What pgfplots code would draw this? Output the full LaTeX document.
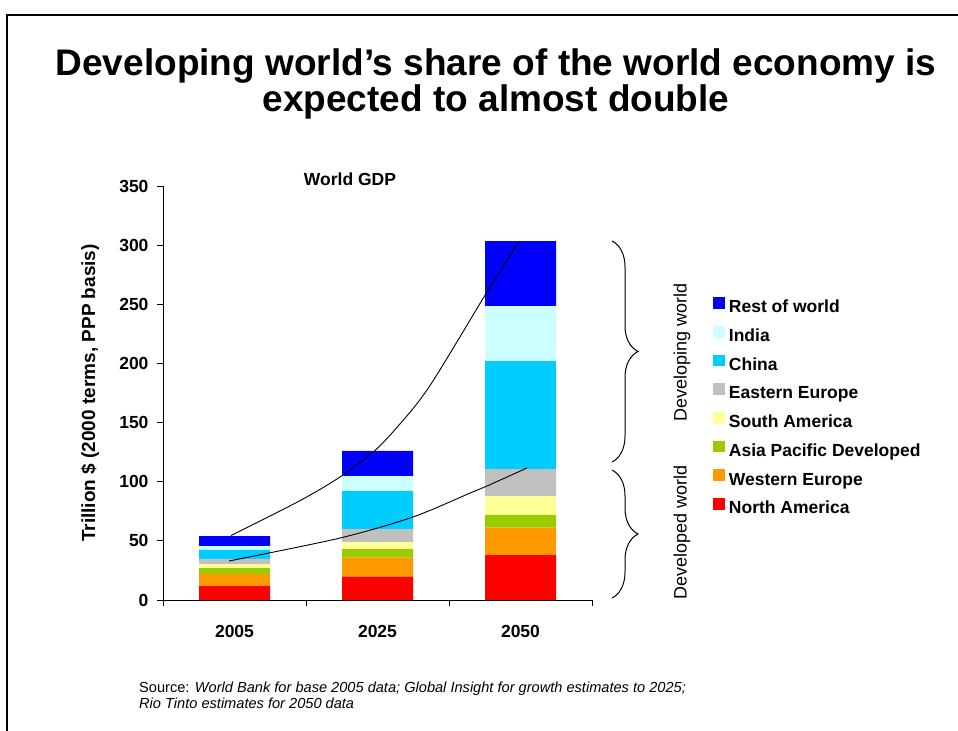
\documentclass[border=0pt]{standalone}
\usepackage{fontspec}
\setmainfont{Liberation Sans}
\usepackage{pgfplots}
\pgfplotsset{compat=1.18}
\usetikzlibrary{decorations.pathreplacing}

\definecolor{cNA}{HTML}{FF0000}
\definecolor{cWE}{HTML}{FF9900}
\definecolor{cAP}{HTML}{99CC00}
\definecolor{cSA}{HTML}{FFFF99}
\definecolor{cEE}{HTML}{C0C0C0}
\definecolor{cCN}{HTML}{00CCFF}
\definecolor{cIN}{HTML}{CCFFFF}
\definecolor{cRW}{HTML}{0000FF}

\pgfplotsset{mysq/.style={legend image code/.code={\fill[##1] (0bp,-0.5bp) rectangle (11.7bp,11.2bp);}}}

\newcommand{\lbl}{\fontsize{17.5bp}{20bp}\selectfont\bfseries}

\begin{document}
\begin{tikzpicture}
\path[use as bounding box] (0,0) rectangle (958bp,-731bp);
\draw[line width=2.2bp] (7bp,-731bp) -- (7bp,-15bp) -- (958bp,-15bp);

\node[anchor=base, font=\fontsize{37bp}{40bp}\selectfont\bfseries, inner sep=0pt] at (496bp,-75bp) {Developing world’s share of the world economy is};
\node[anchor=base, font=\fontsize{37bp}{40bp}\selectfont\bfseries, inner sep=0pt] at (496bp,-111bp) {expected to almost double};

\node[anchor=base, font=\lbl, inner sep=0pt] at (350bp,-185bp) {World GDP};

\node[anchor=base west, font=\fontsize{14.6bp}{16bp}\selectfont, inner sep=0pt] at (139bp,-692bp) {Source: \textit{World Bank for base 2005 data; Global Insight for growth estimates to 2025;}};
\node[anchor=base west, font=\fontsize{14.6bp}{16bp}\selectfont\itshape, inner sep=0pt] at (139bp,-708bp) {Rio Tinto estimates for 2050 data};

\draw[line width=1bp, decorate, decoration={brace, amplitude=26bp}] (612bp,-241bp) -- (612bp,-462bp);
\draw[line width=1bp, decorate, decoration={brace, amplitude=26bp}] (612bp,-470bp) -- (612bp,-598bp);
\node[rotate=90, font=\fontsize{18bp}{20bp}\selectfont, inner sep=0pt] at (682bp,-352bp) {Developing world};
\node[rotate=90, font=\fontsize{18bp}{20bp}\selectfont, inner sep=0pt] at (682bp,-532bp) {Developed world};

\begin{axis}[
  at={(163bp,-600bp)}, anchor=south west,
  scale only axis, width=429bp, height=414bp,
  xmin=0.5, xmax=3.5, ymin=0, ymax=350,
  axis x line*=bottom, axis y line*=left,
  axis line style={-, black, line width=1bp},
  ybar stacked, bar width=71bp,
  xtick={0.5,1.5,2.5,3.5}, x tick label as interval,
  xticklabels={2005,2025,2050},
  ytick={0,50,100,150,200,250,300,350},
  tick align=outside, major tick length=6bp,
  tick style={black, line width=1bp},
  /pgf/number format/assume math mode=true,
  ticklabel style={font=\lbl},
  xticklabel style={yshift=-16bp},
  yticklabel style={xshift=-5bp},
  ylabel={Trillion \$ (2000 terms, PPP basis)},
  ylabel style={font=\fontsize{19bp}{21bp}\selectfont\bfseries, at={(axis description cs:-0.17,0.5)}, anchor=center},
  reverse legend,
  legend style={at={(axis description cs:1.2821,0.732)}, anchor=north west,
    draw=none, fill=none, inner sep=0pt, font=\lbl, row sep=9.5bp, column sep=4bp,
    nodes={inner sep=0pt, text height=12.5bp, text depth=3.5bp}},
  legend cell align=left,
]
\addplot[fill=cNA, draw=none, mysq] coordinates {(1,11.8) (2,19.7) (3,38.0)};
\addplot[fill=cWE, draw=none, mysq] coordinates {(1,10.2) (2,16.1) (3,23.1)};
\addplot[fill=cAP, draw=none, mysq] coordinates {(1,5.0) (2,7.3) (3,10.8)};
\addplot[fill=cSA, draw=none, mysq] coordinates {(1,3.4) (2,5.9) (3,16.0)};
\addplot[fill=cEE, draw=none, mysq] coordinates {(1,4.3) (2,11.0) (3,22.8)};
\addplot[fill=cCN, draw=none, mysq] coordinates {(1,7.6) (2,32.1) (3,91.3)};
\addplot[fill=cIN, draw=none, mysq] coordinates {(1,3.3) (2,12.7) (3,46.5)};
\addplot[fill=cRW, draw=none, mysq] coordinates {(1,8.5) (2,21.2) (3,55.0)};
\legend{North America, Western Europe, Asia Pacific Developed, South America, Eastern Europe, China, India, Rest of world}
\end{axis}

\begin{axis}[
  at={(163bp,-600bp)}, anchor=south west,
  scale only axis, width=429bp, height=414bp,
  xmin=0.5, xmax=3.5, ymin=0, ymax=350,
  hide axis, clip=false,
]
\addplot[smooth, black, line width=0.9bp] coordinates {(0.976,54.5) (1.458,84) (1.738,104) (1.96,124) (2.122,144) (2.36,180) (2.759,259) (2.99,303)};
\addplot[smooth, black, line width=0.9bp] coordinates {(0.962,33) (1.738,52.4) (2.248,70.2) (2.647,90.4) (2.766,96.4) (3.045,111.6)};
\end{axis}
\end{tikzpicture}
\end{document}
